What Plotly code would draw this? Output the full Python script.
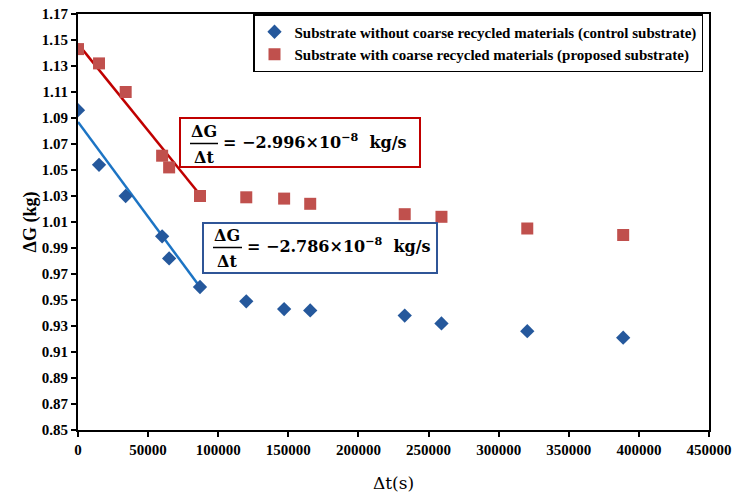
import plotly.graph_objects as go

# ---- data ----
time_s = [0, 15000, 34000, 60000, 65000, 87000, 120000, 147000, 165600, 233000, 259200, 320400, 388800]
g_control = [1.096, 1.054, 1.030, 0.999, 0.982, 0.960, 0.949, 0.943, 0.942, 0.938, 0.932, 0.926, 0.921]
g_proposed = [1.143, 1.132, 1.110, 1.061, 1.052, 1.030, 1.029, 1.028, 1.024, 1.016, 1.014, 1.005, 1.000]

fit_t = [0, 87000]
fit_control = [1.087, 0.960]
fit_proposed = [1.147, 1.031]

name_control = "Substrate without coarse recycled materials (control substrate)"
name_proposed = "Substrate with coarse recycled materials (proposed substrate)"
eq_proposed = "= \u22122.996\u00d710<sup>\u22128</sup>  kg/s"
eq_control = "= \u22122.786\u00d710<sup>\u22128</sup>  kg/s"

x_ticks = list(range(0, 450001, 50000))
y_ticks = [round(0.85 + 0.02 * i, 2) for i in range(17)]

# ---- figure ----
W, H = 734, 496
L, R, T, B = 78, 25, 14, 66
pw, ph = W - L - R, H - T - B


def px(x):
    return (x - L) / pw


def py(y):
    return (H - B - y) / ph


fig = go.Figure()
fig.add_trace(go.Scatter(x=fit_t, y=fit_control, mode="lines",
                         line=dict(color="#1C74C4", width=2.5), showlegend=False, hoverinfo="skip"))
fig.add_trace(go.Scatter(x=fit_t, y=fit_proposed, mode="lines",
                         line=dict(color="#C00000", width=2.5), showlegend=False, hoverinfo="skip"))
fig.add_trace(go.Scatter(x=time_s, y=g_control, mode="markers", name=name_control,
                         marker=dict(symbol="diamond", size=11, color="#25589C")))
fig.add_trace(go.Scatter(x=time_s, y=g_proposed, mode="markers", name=name_proposed,
                         marker=dict(symbol="square", size=12, color="#C0504D")))

tickfont = dict(family="Liberation Serif", size=15, color="black", weight="bold")
fig.update_xaxes(range=[0, 450000], tickvals=x_ticks, ticktext=[str(v) for v in x_ticks],
                 showgrid=False, zeroline=False, showline=True, linecolor="black", linewidth=2,
                 mirror=True, ticks="outside", ticklen=5, tickwidth=1.5, tickcolor="black",
                 tickfont=tickfont, automargin=False,
                 title=dict(text="\u0394t(s)", font=dict(family="DejaVu Serif", size=17, color="black"),
                            standoff=20))
fig.update_yaxes(range=[0.85, 1.17], tickvals=y_ticks, ticktext=["%.2f" % v for v in y_ticks],
                 showgrid=False, zeroline=False, showline=True, linecolor="black", linewidth=2,
                 mirror=True, ticks="outside", ticklen=5, tickwidth=1.5, tickcolor="black",
                 tickfont=tickfont, automargin=False,
                 title=dict(text="\u0394G (kg)", font=dict(family="Liberation Serif", size=18,
                                                           color="black", weight="bold"),
                            standoff=0))

eqfont = dict(family="DejaVu Serif", size=16, color="black", weight="bold")
shapes = [
    dict(type="rect", xref="paper", yref="paper", x0=px(180), x1=px(420), y0=py(167), y1=py(118),
         line=dict(color="#C00000", width=2), fillcolor="white", layer="above"),
    dict(type="rect", xref="paper", yref="paper", x0=px(203), x1=px(437), y0=py(273), y1=py(223),
         line=dict(color="#2F5597", width=2), fillcolor="white", layer="above"),
    dict(type="line", xref="paper", yref="paper", x0=px(190), x1=px(218), y0=py(143.5), y1=py(143.5),
         line=dict(color="black", width=1.5)),
    dict(type="line", xref="paper", yref="paper", x0=px(213), x1=px(242), y0=py(247.5), y1=py(247.5),
         line=dict(color="black", width=1.5)),
]
annotations = [
    dict(text="\u0394G", x=px(204), y=py(131), xanchor="center", yanchor="middle"),
    dict(text="\u0394t", x=px(204), y=py(157), xanchor="center", yanchor="middle"),
    dict(text=eq_proposed, x=px(221), y=py(141), xanchor="left", yanchor="middle"),
    dict(text="\u0394G", x=px(227), y=py(235), xanchor="center", yanchor="middle"),
    dict(text="\u0394t", x=px(227), y=py(261), xanchor="center", yanchor="middle"),
    dict(text=eq_control, x=px(245), y=py(245), xanchor="left", yanchor="middle"),
]
for a in annotations:
    a.update(xref="paper", yref="paper", showarrow=False, font=eqfont)

fig.update_layout(
    width=W, height=H, margin=dict(l=L, r=R, t=T, b=B),
    paper_bgcolor="white", plot_bgcolor="white",
    shapes=shapes, annotations=annotations,
    legend=dict(x=px(703), y=py(14), xanchor="right", yanchor="top",
                bgcolor="white", bordercolor="black", borderwidth=1.5,
                font=dict(family="Liberation Serif", size=15, color="black", weight="bold"),
                itemwidth=30, tracegroupgap=0),
    showlegend=True,
)

fig.write_html("out.html")
